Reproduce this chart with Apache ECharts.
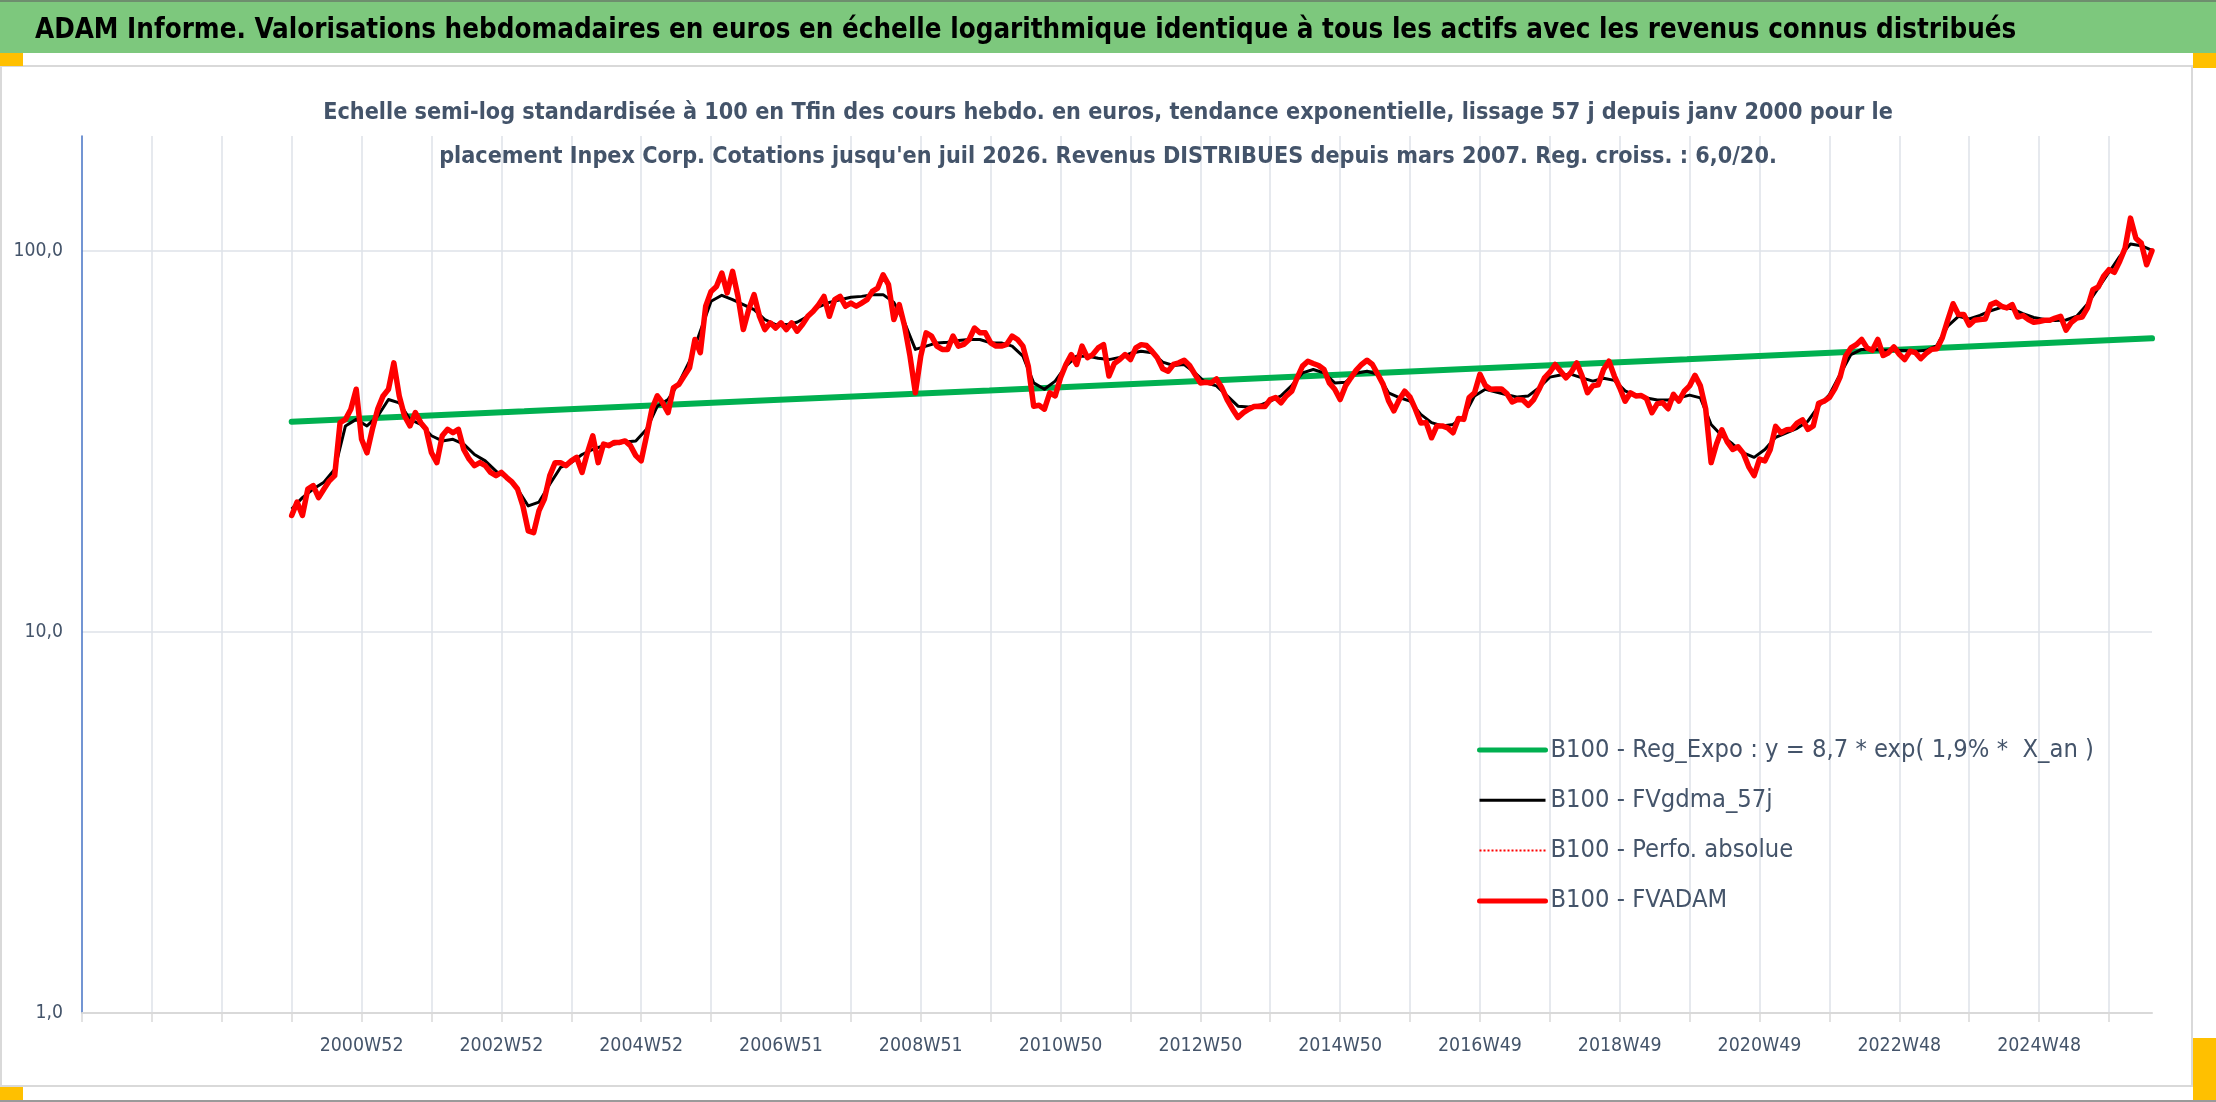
<!DOCTYPE html>
<html><head><meta charset="utf-8">
<script src="https://cdn.jsdelivr.net/npm/echarts@6/dist/echarts.min.js"></script>
<style>html,body{margin:0;padding:0;background:#fff;}#c{width:2216px;height:1102px;}</style>
</head><body><div id="c"></div>
<script>
// ---------- DATA ----------
const bannerTitle = "ADAM Informe. Valorisations hebdomadaires en euros en échelle logarithmique identique à tous les actifs avec les revenus connus distribués";
const subtitleLines = [
  "Echelle semi-log standardisée à 100 en Tfin des cours hebdo. en euros, tendance exponentielle, lissage 57 j depuis janv 2000 pour le",
  "placement Inpex Corp. Cotations jusqu'en juil 2026. Revenus DISTRIBUES depuis mars 2007. Reg. croiss. : 6,0/20."
];
const seriesNames = [
  "B100 - Reg_Expo : y = 8,7 * exp( 1,9% *  X_an )",
  "B100 - FVgdma_57j",
  "B100 - Perfo. absolue",
  "B100 - FVADAM"
];
// weekly categories (Monday dates, ISO week labels)
const categoryStart = "1996-12-30";
const categoryCount = 1541;
const tickLabels = ["2000W52","2002W52","2004W52","2006W51","2008W51","2010W50","2012W50","2014W50","2016W49","2018W49","2020W49","2022W48","2024W48"];
const yTickValues = [1, 10, 100];

// FVADAM weekly values sampled every 4 weeks, from category index 156 (2000W01)
const fvadamStart = 156, fvadamStep = 4;
const fvadam = [
  20.2,21.9,20.2,23.7,24.2,22.5,23.7,24.9,25.7,35.4,
  36.1,38.4,43.3,32.0,29.5,34.0,38.4,41.6,43.3,50.8,
  41.6,36.8,34.7,37.6,35.4,34.0,29.5,27.8,32.7,34.0,
  33.3,34.0,30.1,28.4,27.3,27.8,27.3,26.2,25.7,26.2,
  25.4,24.7,23.7,21.4,18.4,18.2,20.8,22.3,25.7,27.8,
  27.8,27.3,28.1,28.7,26.2,29.5,32.7,27.8,31.1,30.8,
  31.4,31.4,31.7,30.8,29.0,28.1,32.7,38.4,41.6,
  39.9,37.6,43.7,44.6,46.9,49.3,58.5,54.0,71.5,78.2,
  80.6,87.4,77.5,88.3,75.9,62.1,70.1,76.7,67.3,62.1,
  64.7,62.7,64.7,62.1,64.7,61.5,64.0,67.3,69.4,72.2,
  75.9,67.3,74.4,75.9,71.5,72.9,71.5,72.9,74.4,78.2,
  79.8,86.5,81.5,66.0,72.2,63.4,52.9,42.4,52.9,60.9,
  59.7,56.2,55.1,55.1,59.7,56.2,56.8,58.5,62.7,60.9,
  60.9,57.3,56.2,56.2,56.8,59.7,58.5,56.2,49.8,39.1,
  39.3,38.4,42.4,41.6,46.4,50.3,53.4,50.3,56.2,52.4,
  53.4,55.6,56.7,46.9,50.6,51.8,53.4,51.8,55.6,56.7,
  56.4,54.5,52.4,49.0,48.3,50.3,50.8,51.6,50.0,47.4,
  45.0,45.2,45.0,46.1,43.7,40.6,38.4,36.5,37.6,38.4,
  39.0,39.1,39.0,40.7,41.2,39.9,41.6,42.8,46.4,49.8,
  51.3,50.6,50.0,48.8,45.0,43.3,40.7,44.2,46.4,48.6,
  50.3,51.6,50.3,47.4,44.6,40.4,38.0,40.7,42.8,41.3,
  38.4,35.3,35.4,32.3,34.7,34.7,34.3,33.3,36.3,36.1,
  41.2,42.4,47.4,44.3,43.3,43.4,43.4,42.2,40.1,40.7,
  40.6,39.3,40.7,43.3,46.4,48.0,50.3,48.3,46.4,48.0,
  50.8,46.9,42.4,44.2,44.5,48.8,51.3,46.9,43.7,40.3,
  42.4,41.6,41.7,40.9,37.6,39.7,39.9,38.5,42.0,40.3,
  42.8,44.2,47.1,44.2,38.4,27.8,31.1,33.9,31.5,30.1,
  30.6,29.4,27.1,25.7,28.4,28.1,30.1,34.6,33.3,33.9,
  34.0,
  35.3,36.0,34.0,34.7,39.8,40.3,41.2,43.4,46.7,52.9,
  55.6,56.7,58.5,55.6,54.8,58.5,53.1,54.0,55.9,53.5,
  51.8,54.5,54.0,52.1,53.8,55.1,55.3,59.1,65.7,72.6,
  68.0,68.0,63.8,65.7,66.0,66.2,72.2,73.2,71.5,70.8,
  72.2,67.0,67.6,66.0,64.9,65.2,65.7,65.7,66.6,67.3,
  61.9,64.9,66.6,67.0,70.8,79.0,80.3,85.7,89.2,87.8,
  93.8,101.6,121.8,107.9,104.7,91.9,100.0
];
// Perfo. absolue (hidden under FVADAM in the reference)
const perfoAbsolue = fvadam.slice();

// FVgdma_57j smoothed values sampled every 8 weeks from index 156
const gdmaStart = 156, gdmaStep = 8;
const gdma = [
  21.0,22.5,23.7,24.7,26.7,34.7,36.1,34.7,36.8,40.7,
  39.9,36.1,35.0,32.7,31.7,32.0,31.1,29.2,28.1,26.4,
  25.4,23.7,21.4,21.9,24.4,27.0,27.8,29.2,30.1,30.8,
  31.1,31.5,31.7,34.0,39.1,
  40.7,45.0,51.3,61.5,73.7,76.4,74.4,72.2,70.1,66.0,
  64.0,64.0,64.9,67.3,71.2,73.2,74.4,75.5,75.9,76.6,
  76.7,73.2,64.7,55.1,56.2,57.3,57.5,58.1,58.5,58.5,
  57.3,57.3,56.2,52.9,45.0,
  43.3,45.5,49.8,52.9,52.9,52.2,51.8,52.5,53.8,54.5,
  54.0,51.0,50.0,50.3,47.8,45.0,44.2,41.6,39.1,38.9,
  39.3,40.3,41.6,44.3,47.8,48.8,47.8,45.0,45.2,47.7,
  48.3,47.4,42.4,41.2,40.3,
  37.2,35.4,34.7,35.0,36.8,41.6,43.3,42.6,41.9,41.3,
  41.6,43.7,46.6,47.2,47.4,46.4,45.5,46.3,45.7,42.9,
  41.7,41.1,40.6,40.6,41.1,41.8,41.1,35.0,32.7,31.1,
  29.5,28.7,30.1,32.4,33.3,
  34.2,35.7,39.1,41.9,47.4,53.4,55.1,55.1,54.8,54.8,
  54.7,54.5,54.8,56.4,63.4,67.3,66.2,67.7,69.6,71.0,
  70.4,68.4,66.8,66.0,65.6,65.8,67.3,72.5,79.8,87.8,
  96.6,104.1,103.1,100.2
];

// Exponential regression line read every 173 weeks from index 156
const regStart = 156, regStep = 173;
const regExpo = [35.6, 37.9, 40.4, 43.0, 45.8, 48.8, 51.9, 55.3, 58.9];

// ---------- HELPERS ----------
function isoWeekLabel(d) {
  const t = new Date(Date.UTC(d.getUTCFullYear(), d.getUTCMonth(), d.getUTCDate()));
  const day = t.getUTCDay() || 7;
  t.setUTCDate(t.getUTCDate() + 4 - day);
  const ys = new Date(Date.UTC(t.getUTCFullYear(), 0, 1));
  const wk = Math.ceil(((t - ys) / 86400000 + 1) / 7);
  return t.getUTCFullYear() + 'W' + String(wk).padStart(2, '0');
}
const categories = [];
{
  const s = new Date(categoryStart + 'T00:00:00Z');
  for (let i = 0; i < categoryCount; i++) {
    categories.push(isoWeekLabel(new Date(s.getTime() + i * 7 * 86400000)));
  }
}
const tickSet = new Set(tickLabels);
function toPairs(arr, start, step) { return arr.map((v, i) => [start + i * step, v]); }

const FONT = '"DejaVu Sans Condensed", "DejaVu Sans", sans-serif';
const TXT = '#44546A';
const GRID = '#DEE2E8';

const chart = echarts.init(document.getElementById('c'), null, {renderer: 'canvas'});
chart.setOption({
  animation: false,
  backgroundColor: '#ffffff',
  textStyle: {fontFamily: FONT},
  graphic: [
    {type: 'rect', z: 0, shape: {x: 0, y: 0, width: 2216, height: 53}, style: {fill: '#7DC87D'}},
    {type: 'rect', z: 0, shape: {x: 0, y: 0, width: 2216, height: 2}, style: {fill: '#6E8E6E'}},
    {type: 'rect', z: 0, shape: {x: 1, y: 66, width: 2191, height: 1020}, style: {fill: 'none', stroke: '#D9D9D9', lineWidth: 2}},
    {type: 'rect', z: 1, shape: {x: 0, y: 53, width: 23, height: 13}, style: {fill: '#FFC000'}},
    {type: 'rect', z: 1, shape: {x: 2193, y: 53, width: 23, height: 15}, style: {fill: '#FFC000'}},
    {type: 'rect', z: 1, shape: {x: 2193, y: 1038, width: 23, height: 62}, style: {fill: '#FFC000'}},
    {type: 'rect', z: 1, shape: {x: 0, y: 1087, width: 23, height: 13}, style: {fill: '#FFC000'}},
    {type: 'rect', z: 0, shape: {x: 0, y: 1100, width: 2216, height: 2}, style: {fill: '#9A9A9A'}}
  ],
  title: [
    {text: bannerTitle, left: 30, top: 6, z: 10,
     textStyle: {fontFamily: FONT, fontSize: 27.5, fontWeight: 'bold', color: '#000000', lineHeight: 40}},
    {text: subtitleLines.join('\n'), left: 'center', top: 86, z: 10,
     textStyle: {fontFamily: FONT, fontSize: 23.2, fontWeight: 'bold', color: TXT, lineHeight: 44}}
  ],
  grid: {left: 82, right: 64, top: 136, bottom: 89, containLabel: false},
  legend: {
    orient: 'vertical', left: 1477, top: 735, padding: 0,
    itemWidth: 66, itemHeight: 14, itemGap: 20.3,
    itemStyle: {opacity: 0},
    textStyle: {fontFamily: FONT, fontSize: 25.3, color: TXT, lineHeight: 30},
    data: [
      {name: seriesNames[0], lineStyle: {width: 5}},
      {name: seriesNames[1], lineStyle: {width: 3}},
      {name: seriesNames[2], lineStyle: {width: 2, type: 'dotted'}},
      {name: seriesNames[3], lineStyle: {width: 5}}
    ]
  },
  xAxis: {
    type: 'category', data: categories, boundaryGap: false,
    axisLine: {show: true, lineStyle: {color: '#D9D9D9', width: 2}},
    axisTick: {show: true, length: 9, interval: (i) => i % 52 === 0, lineStyle: {color: '#D9D9D9', width: 1.5}},
    splitLine: {show: true, interval: (i) => i % 52 === 0 && i > 0, lineStyle: {color: GRID, width: 1.5}},
    axisLabel: {interval: (i, v) => tickSet.has(v) && i % 104 === 0, margin: 23,
      fontFamily: FONT, fontSize: 19.4, color: TXT}
  },
  yAxis: {
    type: 'log', logBase: 10, min: 1, max: 200,
    axisLine: {show: true, lineStyle: {color: '#4472C4', width: 1.5}},
    axisTick: {show: false},
    splitLine: {show: true, showMinLine: false, showMaxLine: false, lineStyle: {color: GRID, width: 1.5}},
    axisLabel: {margin: 19, fontFamily: FONT, fontSize: 19.2, color: TXT, showMaxLabel: false,
      formatter: (v) => yTickValues.some(t => Math.abs(t - v) < 1e-6) ? v.toFixed(1).replace('.', ',') : ''}
  },
  series: [
    {name: seriesNames[0], type: 'line', z: 2, symbol: 'none', showSymbol: false,
     data: toPairs(regExpo, regStart, regStep),
     lineStyle: {color: '#00B050', width: 6, cap: 'round'}, itemStyle: {color: '#00B050'}},
    {name: seriesNames[1], type: 'line', z: 3, symbol: 'none', showSymbol: false,
     data: toPairs(gdma, gdmaStart, gdmaStep),
     lineStyle: {color: '#000000', width: 3, join: 'round'}, itemStyle: {color: '#000000'}},
    {name: seriesNames[2], type: 'line', z: 3, symbol: 'none', showSymbol: false,
     data: toPairs(perfoAbsolue, fvadamStart, fvadamStep),
     lineStyle: {color: '#FF0000', width: 2, type: 'dotted'}, itemStyle: {color: '#FF0000'}},
    {name: seriesNames[3], type: 'line', z: 4, symbol: 'none', showSymbol: false,
     data: toPairs(fvadam, fvadamStart, fvadamStep),
     lineStyle: {color: '#FF0000', width: 5.5, join: 'round', cap: 'round'}, itemStyle: {color: '#FF0000'}}
  ]
});
</script>
</body></html>
